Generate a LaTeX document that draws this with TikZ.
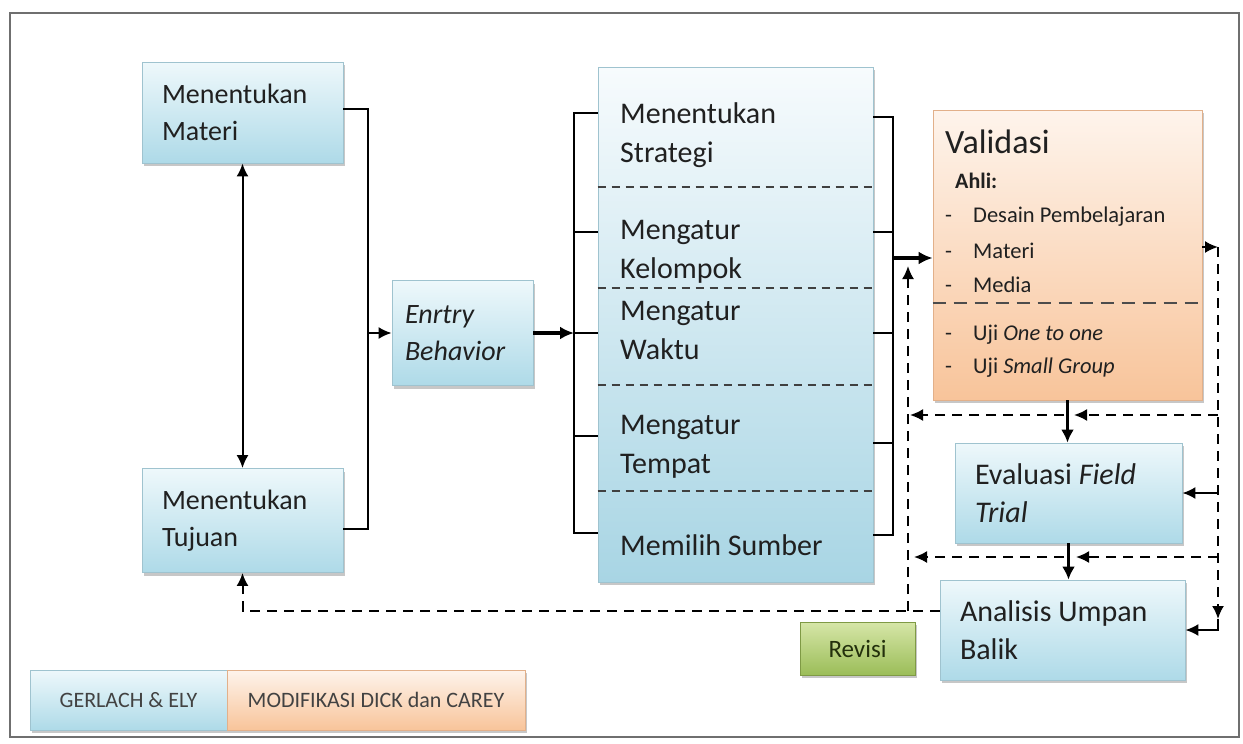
\documentclass[tikz,border=0pt]{standalone}
\usepackage{fontspec}
\setmainfont{Carlito}
\usetikzlibrary{arrows.meta,shadows}

\definecolor{ink}{HTML}{202020}
\definecolor{framegray}{HTML}{6F6F6F}
\definecolor{bluetop}{HTML}{EEF8FB}
\definecolor{bluebot}{HTML}{AEDAE8}
\definecolor{blueline}{HTML}{9FC3CF}
\definecolor{midtop}{HTML}{F7FBFD}
\definecolor{midbot}{HTML}{A8D5E4}
\definecolor{orgtop}{HTML}{FEF4EC}
\definecolor{orgbot}{HTML}{F8C49A}
\definecolor{orgline}{HTML}{E2B08A}
\definecolor{grntop}{HTML}{D6E6A8}
\definecolor{grnbot}{HTML}{9BBD58}
\definecolor{grnline}{HTML}{7F9A45}
\definecolor{grntext}{HTML}{23300C}

\newcommand\fsBox{\fontsize{28}{37}\selectfont}
\newcommand\fsMid{\fontsize{30}{39}\selectfont}
\newcommand\fsRight{\fontsize{30}{38}\selectfont}
\newcommand\fsTitle{\fontsize{34}{40}\selectfont}
\newcommand\fsItem{\fontsize{22.5}{26}\selectfont}
\newcommand\fsKey{\fontsize{22}{26}\selectfont}
\newcommand\fsRev{\fontsize{25}{28}\selectfont}

\begin{document}
\begin{tikzpicture}[x=1pt,y=-1pt,
  box/.style={rectangle, line width=0.8pt, text=ink, align=flush left, inner ysep=0pt,
    drop shadow={shadow xshift=2pt, shadow yshift=-3pt, fill=black, opacity=0.22}},
  bluebox/.style={box, draw=blueline, top color=bluetop, bottom color=bluebot},
  orangebox/.style={box, draw=orgline, top color=orgtop, bottom color=orgbot},
  greenbox/.style={box, draw=grnline, top color=grntop, bottom color=grnbot},
  lbl/.style={anchor=west, inner sep=0pt, text=ink, align=flush left},
  conn/.style={draw=black, line width=2pt},
  tip/.style={},
  arr/.style={conn, -{Latex[length=13pt,width=12pt]}},
  thickarr/.style={draw=black, line width=3.5pt, -{Latex[length=14pt,width=13pt]}},
  dasharr/.style={arr, dash pattern=on 10pt off 7pt},
  sepline/.style={draw=black!75, line width=1.5pt, dash pattern=on 8pt off 6pt}]

\useasboundingbox (0,0) rectangle (1243,744);
\fill[white] (0,0) rectangle (1243,744);
\draw[draw=framegray, line width=2pt] (10,13) rectangle (1239,737);

% ---- left column: Gerlach & Ely ----
\node[bluebox, minimum height=101pt, text width=161pt, inner xsep=20pt, font=\fsBox]
  (materi) at (242.5,112.5) {Menentukan\\Materi};
\node[bluebox, minimum height=104pt, text width=161pt, inner xsep=20pt, font=\fsBox]
  (tujuan) at (242.5,520.5) {Menentukan\\Tujuan};
\node[bluebox, minimum height=105pt, text width=115pt, inner xsep=13pt, font=\fsBox\itshape]
  (entry) at (462.5,333) {Enrtry\\Behavior};

% ---- middle column ----
\node[box, draw=blueline, top color=midtop, bottom color=midbot,
  minimum width=275pt, minimum height=515pt] (mid) at (735.5,324.5) {};
\foreach \yy in {187,288,385,491}
  \draw[sepline] (mid.west |- 0,\yy) -- (mid.east |- 0,\yy);
\node[lbl, font=\fsMid] (strategi) at (620,135) {Menentukan\\Strategi};
\node[lbl, font=\fsMid] (kelompok) at (620,252) {Mengatur\\Kelompok};
\node[lbl, font=\fsMid] (waktu) at (620,330) {Mengatur\\Waktu};
\node[lbl, font=\fsMid] (tempat) at (620,446.5) {Mengatur\\Tempat};
\node[lbl, font=\fsMid] (sumber) at (620,545) {Memilih Sumber};

% ---- right column: Dick & Carey ----
\node[orangebox, minimum width=269pt, minimum height=290pt] (validasi) at (1067.5,255) {};
\draw[draw=black!70, line width=1.6pt, dash pattern=on 13pt off 8pt]
  (validasi.west |- 0,303) -- (validasi.east |- 0,303);
\node[lbl, font=\fsTitle] (vtitle) at (945,142) {Validasi};
\node[lbl, font=\fsKey\bfseries] (ahli) at (955,181) {Ahli:};
\node[lbl, font=\fsItem] (v1) at (945,217) {\makebox[28pt][l]{-}Desain Pembelajaran};
\node[lbl, font=\fsItem] (v2) at (945,251) {\makebox[28pt][l]{-}Materi};
\node[lbl, font=\fsItem] (v3) at (945,285) {\makebox[28pt][l]{-}Media};
\node[lbl, font=\fsItem] (v4) at (945,335) {\makebox[28pt][l]{-}Uji \textit{One to one}};
\node[lbl, font=\fsItem] (v5) at (945,368) {\makebox[28pt][l]{-}Uji \textit{Small Group}};

\node[bluebox, minimum height=100pt, text width=187pt, inner xsep=20pt, font=\fsRight]
  (evaluasi) at (1068.5,493) {Evaluasi \textit{Field}\\\textit{Trial}};
\node[bluebox, minimum height=100pt, text width=205pt, inner xsep=20pt, font=\fsRight]
  (analisis) at (1062.5,630) {Analisis Umpan\\Balik};
\node[greenbox, minimum width=115pt, minimum height=53pt, align=center,
  text=grntext, font=\fsRev] (revisi) at (857.5,648.5) {Revisi};

% ---- key ----
\node[bluebox, minimum width=197pt, minimum height=60pt, align=center,
  text=ink!85, font=\fsKey] (gerlach) at (128.5,700) {GERLACH \& ELY};
\node[orangebox, minimum width=298pt, minimum height=60pt, align=center,
  text=ink!85, font=\fsKey] (dick) at (376,700) {MODIFIKASI DICK dan CAREY};

% ---- junction points ----
\coordinate (lb) at (368,333);
\coordinate (Lt) at (574,113);
\coordinate (Lb) at (574,533);
\coordinate (Rt) at (893,117);
\coordinate (Rb) at (893,535);
\coordinate (Rout) at (893,258);
\coordinate (Vl) at (908,611);
\coordinate (Vt) at (908,266);
\coordinate (Vr) at (1218,247);
\coordinate (Vrb) at (1218,619);
\coordinate (h1r) at (1218,415);
\coordinate (h1m) at (1074,415);
\coordinate (h1n) at (1064,415);
\coordinate (h1l) at (910,415);
\coordinate (h2r) at (1218,557);
\coordinate (h2m) at (1076,557);
\coordinate (h2n) at (1064,557);
\coordinate (h2l) at (914,557);

% ---- solid connectors ----
\draw[conn] ([yshift=4pt]materi.east) -| (lb) |- ([yshift=-8pt]tujuan.east);
\draw[arr] (lb) -- (lb -| entry.west);
\draw[{Latex[length=13pt,width=12pt]}-{Latex[length=13pt,width=12pt]}, line width=2pt]
  (materi.south) -- (tujuan.north);
\draw[thickarr] (entry.east) -- (entry.east -| Lt);

\draw[conn] (mid.west |- Lt) -- (Lt) -- (Lb) -- (mid.west |- Lb);
\foreach \yy in {232,333,436}
  \draw[conn] (mid.west |- 0,\yy) -- (Lt |- 0,\yy);
\draw[conn] (mid.east |- Rt) -- (Rt) -- (Rb) -- (mid.east |- Rb);
\foreach \yy in {232,333,443}
  \draw[conn] (mid.east |- 0,\yy) -- (Rt |- 0,\yy);
\draw[thickarr] (Rout) -- (Rout -| validasi.west);

\draw[draw=black, line width=3pt, -{Latex[length=13pt,width=13pt]}]
  (validasi.south) -- (validasi.south |- evaluasi.north);
\draw[draw=black, line width=3pt, -{Latex[length=13pt,width=13pt]}]
  (evaluasi.south) -- (evaluasi.south |- analisis.north);

\draw[arr] (validasi.east |- Vr) -- (Vr);
\draw[arr] (Vr |- evaluasi.east) -- (evaluasi.east);
\draw[arr] (Vrb) |- (analisis.east);

% ---- dashed feedback lines ----
\draw[dasharr] (analisis.west |- Vl) -| (tujuan.south);
\draw[dasharr] (Vl) -- (Vt);
\draw[dasharr] (Vr) -- (Vrb);
\draw[dasharr] (h1r) -- (h1m);
\draw[dasharr] (h1n) -- (h1l);
\draw[dasharr] (h2r) -- (h2m);
\draw[dasharr] (h2n) -- (h2l);
\end{tikzpicture}
\end{document}
